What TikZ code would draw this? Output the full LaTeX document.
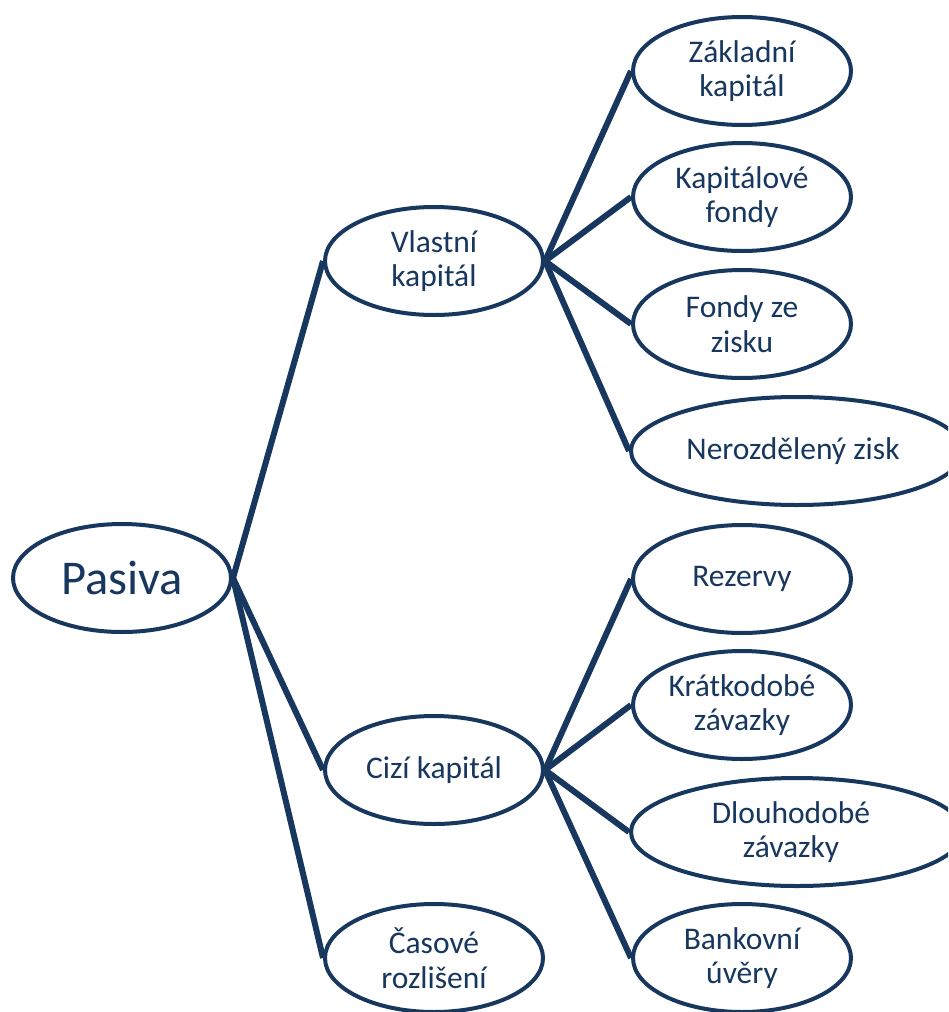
\documentclass[tikz,border=0pt]{standalone}
\usepackage{fontspec}
\setmainfont{Carlito}
\usepackage{tikz}
\usetikzlibrary{shapes.geometric, positioning, backgrounds}
\definecolor{pasivanavy}{RGB}{23,55,94}

\begin{document}
\begin{tikzpicture}[x=1pt, y=-1pt,
  item/.style={ellipse, draw=pasivanavy, line width=4pt, fill=white, inner sep=0pt,
    minimum width=218pt, minimum height=108pt, align=center, text=pasivanavy,
    font=\fontsize{31.5}{34.5}\selectfont},
  wideitem/.style={item, minimum width=332pt},
  branch/.style={draw=pasivanavy, line width=6pt}]
  % Frame of the page
  \useasboundingbox (0,0) rectangle (948,1012);
  \clip (0,0) rectangle (948,1012);
  % Root
  \node[item, font=\fontsize{48.5}{54}\selectfont] (pasiva) at (122,578) {Pasiva};
  % Middle column
  \node[item] (vlastni) at (434,261) {Vlastní\\kapitál};
  \node[item] (cizi) at (434,770) {Cizí kapitál};
  \node[item] (casove) at (434,958) {Časové\\rozlišení};
  % Right column — Vlastní kapitál
  \node[item] (zakladni) at (742,71) {Základní\\kapitál};
  \node[item] (kapfondy) at (742,197) {Kapitálové\\fondy};
  \node[item] (fondyzisk) at (742,324) {Fondy ze\\zisku};
  \node[wideitem] (nerozdeleny) at (797,451) {\hspace*{-8pt}Nerozdělený zisk};
  % Right column — Cizí kapitál
  \node[item] (rezervy) at (742,579) {Rezervy};
  \node[item] (kratkodobe) at (742,705) {Krátkodobé\\závazky};
  \node[wideitem] (dlouhodobe) at (797,832) {\hspace*{-12pt}Dlouhodobé\\\hspace*{-12pt}závazky};
  \node[item] (bankovni) at (742,958) {Bankovní\\úvěry};
  % Branches
  \begin{scope}[on background layer]
    \foreach \child in {vlastni, cizi, casove}
      \draw[branch] (pasiva.east) -- (\child.west);
    \foreach \child in {zakladni, kapfondy, fondyzisk, nerozdeleny}
      \draw[branch] (vlastni.east) -- (\child.west);
    \foreach \child in {rezervy, kratkodobe, dlouhodobe, bankovni}
      \draw[branch] (cizi.east) -- (\child.west);
  \end{scope}
\end{tikzpicture}
\end{document}
